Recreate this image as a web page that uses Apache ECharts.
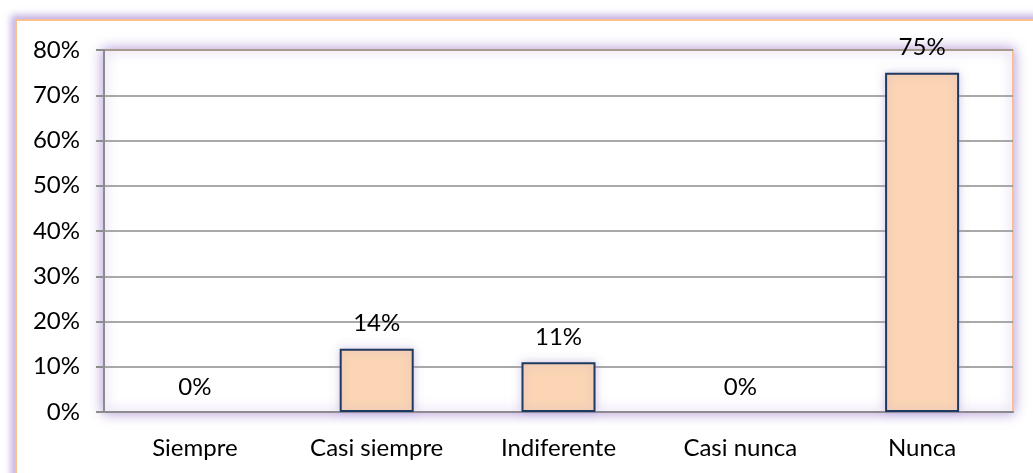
<!DOCTYPE html>
<html>
<head>
<meta charset="utf-8">
<script src="https://cdn.jsdelivr.net/npm/echarts@6/dist/echarts.min.js"></script>
<style>
  html, body { margin: 0; padding: 0; background: #fff; overflow: hidden; }
  #frame { position: absolute; left: 15px; top: 19px; width: 1060px; height: 520px;
           border: 2px solid #F9C091; box-shadow: 0 0 7px 4px rgba(175,150,215,0.75); background: #fff; }
  #chart { position: absolute; left: 0; top: 0; width: 1033px; height: 473px; }
</style>
</head>
<body>
<div id="frame"></div>
<div id="chart"></div>
<script>
const categories = ['Siempre', 'Casi siempre', 'Indiferente', 'Casi nunca', 'Nunca'];
const values = [0, 0.14, 0.11, 0, 0.75];
const yTicks = { min: 0, max: 0.8, interval: 0.1 };

const FONT = 'Lato';
const FS = 24;
const chart = echarts.init(document.getElementById('chart'), null, { renderer: 'canvas' });
chart.setOption({
  backgroundColor: 'transparent',
  animation: false,
  textStyle: { fontFamily: FONT },
  grid: {
    show: true, left: 104, right: 20, top: 50, bottom: 61,
    backgroundColor: '#ffffff', borderColor: '#F9C091', borderWidth: 2,
    shadowColor: 'rgba(165,135,210,0.85)', shadowBlur: 12
  },
  xAxis: {
    type: 'category', data: categories,
    axisLine: { show: true, lineStyle: { color: '#8C8C8C', width: 2 } },
    axisTick: { show: false },
    axisLabel: { color: '#000', fontSize: FS, fontFamily: FONT, margin: 24 }
  },
  yAxis: {
    type: 'value', min: yTicks.min, max: yTicks.max, interval: yTicks.interval,
    axisLine: { show: true, lineStyle: { color: '#8C8C8C', width: 2 } },
    axisTick: { show: true, length: 8, lineStyle: { color: '#8C8C8C', width: 2 } },
    splitLine: { show: true, lineStyle: { color: '#8C8C8C', width: 1.5 } },
    axisLabel: { color: '#000', fontSize: FS, fontFamily: FONT, margin: 24,
      formatter: v => Math.round(v * 100) + '%' }
  },
  series: [{
    type: 'bar',
    data: values.map(v => v === 0
      ? { value: v, itemStyle: { borderWidth: 0, shadowBlur: 0, color: 'transparent' } }
      : { value: v }),
    barWidth: 74,
    itemStyle: { color: '#FCD5B5', borderColor: '#1F3A60', borderWidth: 2,
      shadowColor: 'rgba(170,150,210,0.5)', shadowBlur: 8 },
    label: { show: true, position: 'top', distance: 13, color: '#000', fontSize: FS, fontFamily: FONT,
      formatter: p => Math.round(p.value * 100) + '%' }
  }]
});
</script>
</body>
</html>
